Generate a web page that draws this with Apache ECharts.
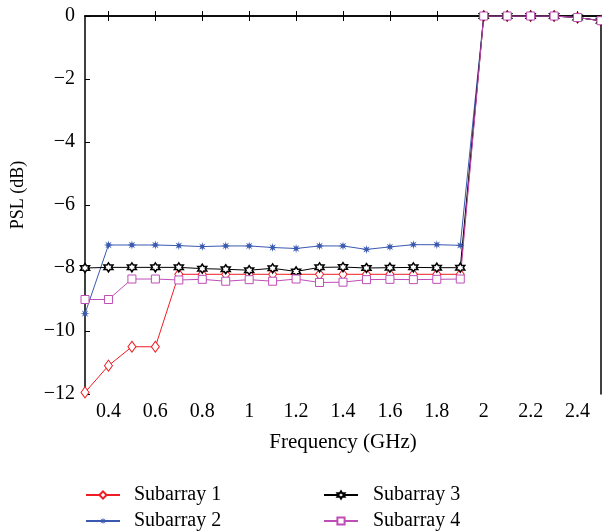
<!DOCTYPE html>
<html>
<head>
<meta charset="utf-8">
<script src="https://cdn.jsdelivr.net/npm/echarts@6/dist/echarts.min.js"></script>
<style>html,body{margin:0;padding:0;background:#fff;}#c{width:602px;height:531px;}</style>
</head>
<body>
<div id="c"></div>
<script>
const freq = [0.3,0.4,0.5,0.6,0.7,0.8,0.9,1.0,1.1,1.2,1.3,1.4,1.5,1.6,1.7,1.8,1.9,2.0,2.1,2.2,2.3,2.4,2.5];
const sub1 = [-11.95,-11.1,-10.5,-10.5,-8.2,-8.2,-8.2,-8.2,-8.2,-8.2,-8.2,-8.2,-8.2,-8.2,-8.2,-8.2,-8.2,0,0,0,0,-0.05,-0.15];
const sub2 = [-9.45,-7.27,-7.27,-7.27,-7.29,-7.32,-7.3,-7.3,-7.35,-7.38,-7.3,-7.3,-7.41,-7.33,-7.26,-7.26,-7.28,0,0,0,0,-0.05,-0.15];
const sub3 = [-8.0,-7.98,-7.98,-7.98,-7.98,-8.02,-8.04,-8.07,-8.01,-8.11,-7.98,-7.97,-8.0,-7.99,-7.98,-7.99,-7.99,0,0,0,0,-0.05,-0.15];
const sub4 = [-9.0,-9.0,-8.35,-8.35,-8.38,-8.36,-8.42,-8.37,-8.42,-8.35,-8.46,-8.45,-8.37,-8.36,-8.37,-8.36,-8.35,0,0,0,0,-0.05,-0.15];
const xTicks = [0.4,0.6,0.8,1.0,1.2,1.4,1.6,1.8,2.0,2.2,2.4];
const names = ['Subarray 1','Subarray 2','Subarray 3','Subarray 4'];

const FONT = 'Liberation Serif';
const hexagram = 'path://M100,0 L128.9,50 L186.6,50 L157.7,100 L186.6,150 L128.9,150 L100,200 L71.1,150 L13.4,150 L42.3,100 L13.4,50 L71.1,50 Z';
const asterisk = 'path://M200,100 L137,115.3 L170.7,170.7 L115.3,137 L100,200 L84.7,137 L29.3,170.7 L63,115.3 L0,100 L63,84.7 L29.3,29.3 L84.7,63 L100,0 L115.3,63 L170.7,29.3 L137,84.7 Z';

function mk(name, arr, color, symbol, size, fill, bw) {
  return {
    name: name, type: 'line',
    data: freq.map((f, i) => [f, arr[i]]),
    symbol: symbol, symbolSize: size,
    showAllSymbol: true,
    lineStyle: { color: color, width: 1 },
    itemStyle: { color: fill, borderColor: color, borderWidth: bw },
    emphasis: { disabled: true },
    animation: false
  };
}

function leg(item, left, top, pad, ih) {
  return {
    data: [item], orient: 'horizontal', left: left, top: top,
    itemWidth: 34, itemHeight: ih,
    selectedMode: false,
    textStyle: { color: '#000', fontFamily: FONT, fontSize: 20, padding: [0, 0, 0, pad] }
  };
}

const chart = echarts.init(document.getElementById('c'));
const axisLine = { show: true, lineStyle: { color: '#000', width: 1.5 } };
chart.setOption({
  animation: false,
  backgroundColor: '#fff',
  grid: { left: 85, right: 1, top: 16, bottom: 137 },
  xAxis: [{
    type: 'value', min: 0.3, max: 2.5, position: 'bottom',
    axisLine: axisLine,
    axisTick: { show: true, inside: true, length: 5, customValues: xTicks, lineStyle: { color: '#000', width: 1 } },
    axisLabel: { customValues: xTicks, color: '#000', fontFamily: FONT, fontSize: 20, margin: 8,
      formatter: v => String(Math.round(v * 10) / 10) },
    splitLine: { show: false },
    name: 'Frequency (GHz)', nameLocation: 'middle', nameGap: 38,
    nameTextStyle: { color: '#000', fontFamily: FONT, fontSize: 21 }
  }, {
    type: 'value', min: 0.3, max: 2.5, position: 'top',
    axisLine: axisLine,
    axisTick: { show: true, inside: true, length: 5, customValues: xTicks, lineStyle: { color: '#000', width: 1 } },
    axisLabel: { show: false }, splitLine: { show: false }
  }],
  yAxis: [{
    type: 'value', min: -12, max: 0, interval: 2,
    axisLine: axisLine,
    axisTick: { show: true, inside: true, length: 5, lineStyle: { color: '#000', width: 1 } },
    axisLabel: { color: '#000', fontFamily: FONT, fontSize: 20, margin: 10,
      formatter: v => v < 0 ? '\u2212' + Math.abs(v) : String(v) },
    splitLine: { show: false },
    name: 'PSL (dB)', nameLocation: 'middle', nameGap: 58, nameRotate: 90,
    nameTextStyle: { color: '#000', fontFamily: FONT, fontSize: 18, padding: [0, 0, 0, 20] }
  }, {
    type: 'value', min: -12, max: 0, position: 'right',
    axisLine: axisLine, axisTick: { show: false }, axisLabel: { show: false }, splitLine: { show: false }
  }],
  legend: [
    leg(names[0], 80, 480, 9, 9),
    leg(names[1], 80, 506, 9, 9),
    leg(names[2], 318, 480, 10, 9),
    leg(names[3], 318, 506, 10, 9)
  ],
  series: [
    mk(names[0], sub1, '#ee1d23', 'diamond', [8, 11], '#fff', 1),
    mk(names[1], sub2, '#3a59b0', asterisk, 9, '#3a59b0', 0),
    mk(names[2], sub3, '#000000', hexagram, 9, '#fff', 1.5),
    mk(names[3], sub4, '#bf4db6', 'rect', 8, '#fff', 1)
  ]
});
</script>
</body>
</html>
